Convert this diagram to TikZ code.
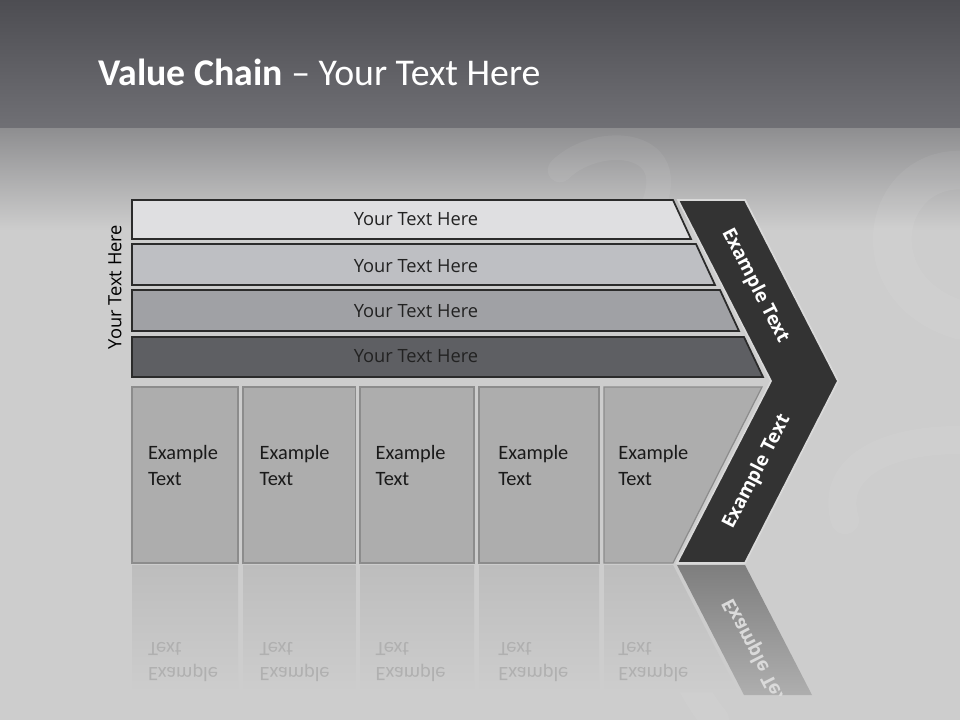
\documentclass[tikz,border=0pt]{standalone}
\usepackage{fontspec}
\setmainfont{Carlito}
\newfontfamily\uifont{Open Sans}
\usetikzlibrary{positioning}

\definecolor{bandtop}{HTML}{4D4D52}
\definecolor{bandbot}{HTML}{707075}
\definecolor{floortop}{HTML}{8E8E90}
\definecolor{floor}{HTML}{CDCDCD}
\definecolor{barone}{HTML}{DFDFE1}
\definecolor{bartwo}{HTML}{BEBFC3}
\definecolor{barthree}{HTML}{A0A1A5}
\definecolor{barfour}{HTML}{5E5F63}
\definecolor{barline}{HTML}{2B2B2B}
\definecolor{bartxt}{HTML}{222222}
\definecolor{chev}{HTML}{333333}
\definecolor{chevedge}{HTML}{D9D9D9}
\definecolor{boxgray}{HTML}{ADADAD}
\definecolor{boxline}{HTML}{8C8C8C}
\definecolor{boxtxt}{HTML}{1A1A1A}
\definecolor{refltop}{HTML}{BDBDBD}
\definecolor{refltxt}{HTML}{B0B0B0}
\definecolor{chevrefl}{HTML}{7E7E7E}
\definecolor{chevrefltxt}{HTML}{DADADA}

\tikzset{
  bar/.style={draw=barline, line width=1pt},
  bartext/.style={font=\uifont\fontsize{10.4}{12}\selectfont, text=bartxt},
  boxshape/.style={fill=boxgray, draw=boxline, line width=0.7pt},
  boxtext/.style={font=\fontsize{11.6}{14.6}\selectfont, align=left, anchor=base west,
    inner sep=0pt, text=boxtxt},
  chevtext/.style={font=\uifont\bfseries\fontsize{10.8}{12}\selectfont, text=white},
  swirl/.style={white, opacity=.06, line cap=round},
}

\begin{document}
\begin{tikzpicture}[x=0.02cm, y=-0.02cm]
\useasboundingbox (0,0) rectangle (960,720);

% Background
\shade[top color=bandtop, bottom color=bandbot] (0,0) rectangle (960,128);
\shade[top color=floortop, bottom color=floor] (0,128) rectangle (960,230);
\fill[floor] (0,230) rectangle (960,720);
\draw[swirl, line width=22pt] (960,170) .. controls (880,170) and (860,290) .. (960,320);
\draw[swirl, line width=14pt] (560,170) .. controls (600,130) and (700,140) .. (640,230);
\draw[swirl, line width=16pt] (960,440) .. controls (880,440) and (830,470) .. (845,520);
\draw[swirl, line width=16pt] (650,590) .. controls (670,640) and (690,690) .. (715,720);

\node[anchor=base west, inner sep=0pt, text=white, font=\fontsize{21.5}{24}\selectfont]
    (title) at (98,85) {\textbf{Value Chain} – Your Text Here};

% Four bars
\filldraw[bar, fill=barone] (132,200) -- (673,200) -- (691,239) -- (132,239) -- cycle;
\filldraw[bar, fill=bartwo] (132,244) -- (696,244) -- (715,285) -- (132,285) -- cycle;
\filldraw[bar, fill=barthree] (132,290) -- (720,290) -- (739,331) -- (132,331) -- cycle;
\filldraw[bar, fill=barfour] (132,337) -- (744,337) -- (763,377) -- (132,377) -- cycle;
\node[bartext] (bar1) at (416,219) {Your Text Here};
\node[bartext] (bar2) at (416,266) {Your Text Here};
\node[bartext] (bar3) at (416,311) {Your Text Here};
\node[bartext] (bar4) at (416,356) {Your Text Here};
\node[bartext, text=black, rotate=90] (sidelabel) at (115,287) {Your Text Here};

% Chevron
\filldraw[fill=chev, draw=chevedge, line width=1pt]
    (678,200) -- (745,200) -- (838,381) -- (745,563) -- (677,563) -- (771,381) -- cycle;
\node[chevtext, rotate=-62.8] (chevup) at (755,286) {Example Text};
\node[chevtext, rotate=62.8] (chevdown) at (757,472) {Example Text};

% Boxes
\foreach \l/\r/\t [count=\i] in {132/238/147.7, 243/355.5/259.3, 360/474/375.3, 479/599/498}{
    \filldraw[boxshape] (\l,387) rectangle (\r,563);
    \node[boxtext] (box\i) at (\t,485) {Example\\Text};
}
\filldraw[boxshape] (604,387) -- (762,387) -- (673,563) -- (604,563) -- cycle;
\node[boxtext] (box5) at (618,485) {Example\\Text};

% Reflection
\begin{scope}
    \clip (0,564) rectangle (960,695);
    \foreach \l/\r/\t [count=\i] in {132/238/147.7, 243/355.5/259.3, 360/474/375.3, 479/599/498}{
        \shade[top color=refltop, bottom color=floor] (\l,565) rectangle (\r,692);
        \node[boxtext, text=refltxt, yscale=-1] (refl\i) at (\t,642) {Example\\Text};
    }
    \shade[top color=refltop, bottom color=floor] (604,565) -- (673,565) -- (738,692) -- (604,692) -- cycle;
    \node[boxtext, text=refltxt, yscale=-1] (refl5) at (618,642) {Example\\Text};
    \shade[top color=chevrefl, bottom color=floor!85!black] (677,565) -- (745,565) -- (812,695) -- (744,695) -- cycle;
    \node[chevtext, text=chevrefltxt, rotate=-62.8, yscale=-1] (chevrefl) at (757,655) {Example Text};
\end{scope}
\end{tikzpicture}
\end{document}
